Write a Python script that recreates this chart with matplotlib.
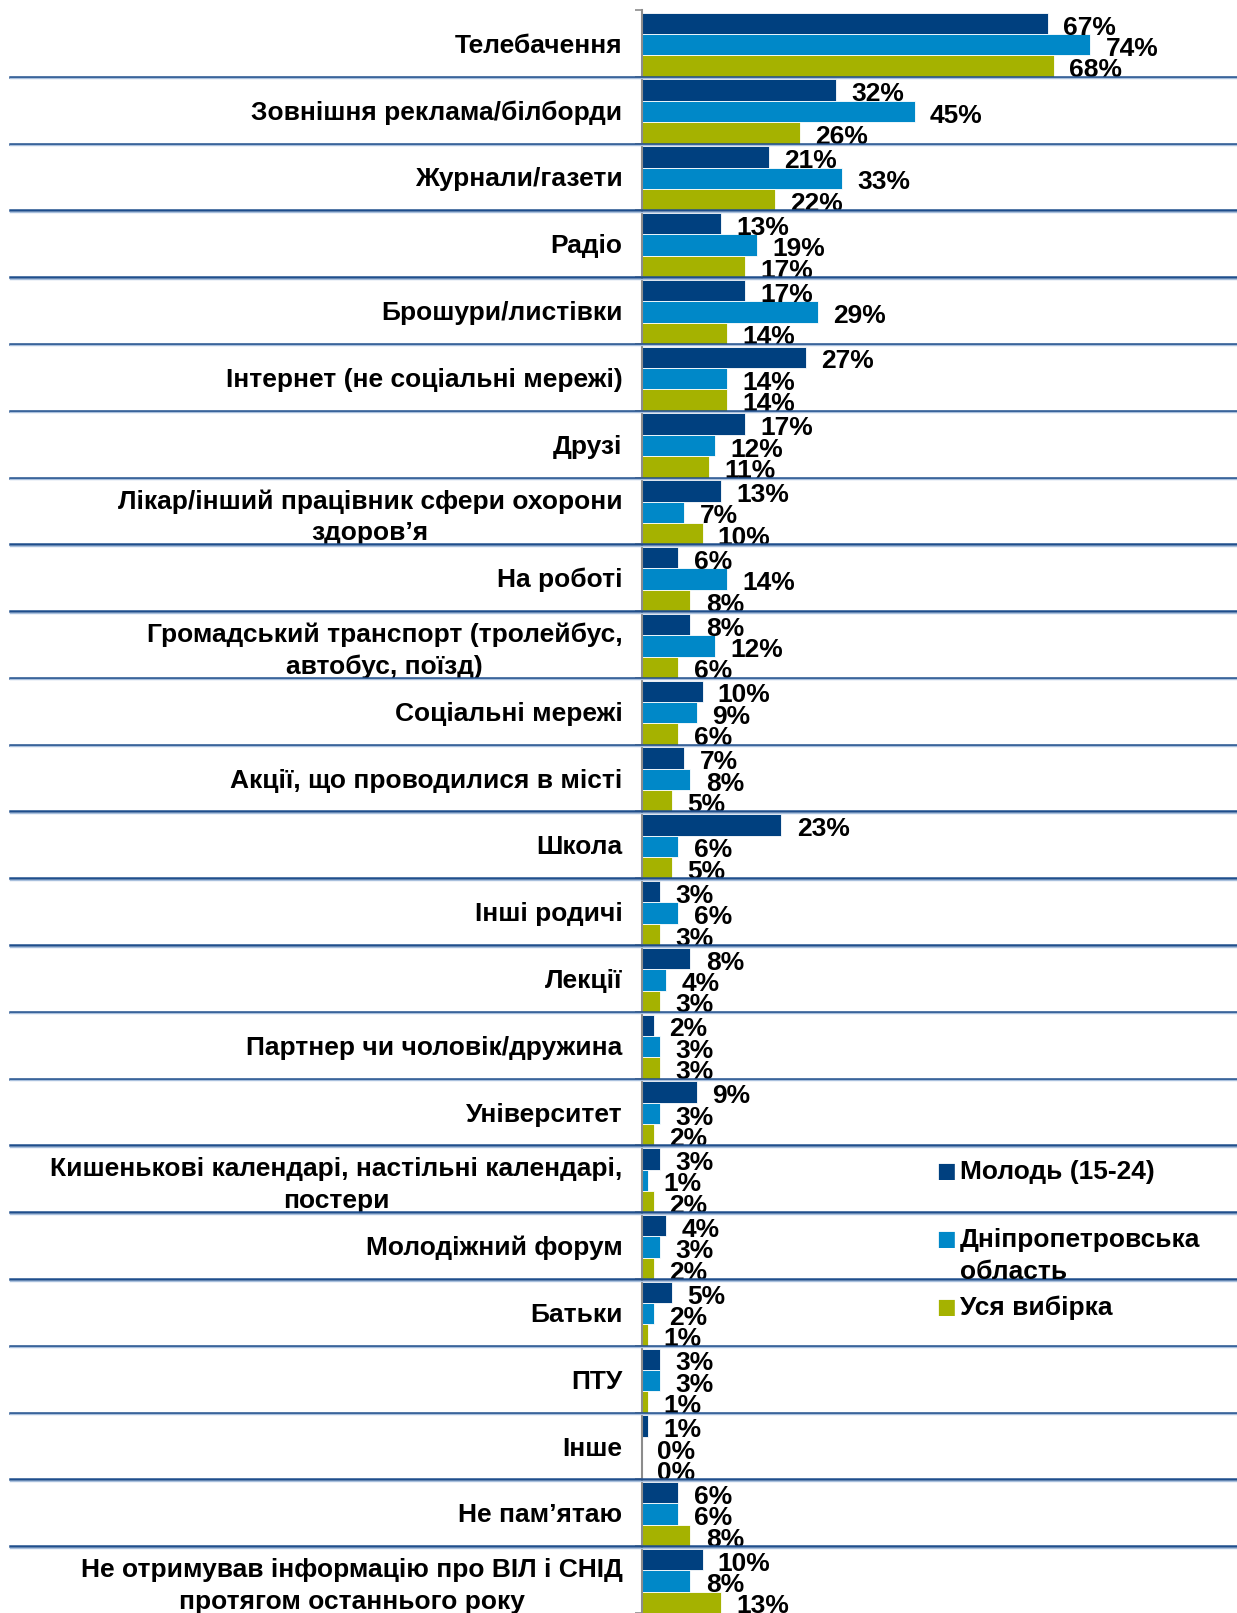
import numpy as np
import matplotlib.pyplot as plt

plt.rcParams['font.family'] = ['Liberation Sans', 'DejaVu Sans']
plt.rcParams['font.weight'] = 'bold'

# categories (top to bottom)
categories = [
    "Телебачення",
    "Зовнішня реклама/білборди",
    "Журнали/газети",
    "Радіо",
    "Брошури/листівки",
    "Інтернет (не соціальні мережі)",
    "Друзі",
    "Лікар/інший працівник сфери охорони\nздоров’я",
    "На роботі",
    "Громадський транспорт (тролейбус,\nавтобус, поїзд)",
    "Соціальні мережі",
    "Акції, що проводилися в місті",
    "Школа",
    "Інші родичі",
    "Лекції",
    "Партнер чи чоловік/дружина",
    "Університет",
    "Кишенькові календарі, настільні календарі,\nпостери",
    "Молодіжний форум",
    "Батьки",
    "ПТУ",
    "Інше",
    "Не пам’ятаю",
    "Не отримував інформацію про ВІЛ і СНІД\nпротягом останнього року",
]

youth = [67, 32, 21, 13, 17, 27, 17, 13, 6, 8, 10, 7, 23, 3, 8, 2, 9, 3, 4, 5, 3, 1, 6, 10]
region = [74, 45, 33, 19, 29, 14, 12, 7, 14, 12, 9, 8, 6, 6, 4, 3, 3, 1, 3, 2, 3, 0, 6, 8]
total = [68, 26, 22, 17, 14, 14, 11, 10, 8, 6, 6, 5, 5, 3, 3, 3, 2, 2, 2, 1, 1, 0, 8, 13]

series_names = ["Молодь (15-24)", "Дніпропетровська\nобласть", "Уся вибірка"]
colors = ["#00407F", "#0088C8", "#A5B200"]

FS = 19

fig = plt.figure(figsize=(12.37, 16.13), dpi=100)
ax = fig.add_axes([642 / 1237, 0.0, 1 - 642 / 1237, 1 - 10 / 1613])

n = len(categories)
rows = np.arange(n)
bh = 0.32
series = [youth, region, total]
for k, (vals, col) in enumerate(zip(series, colors)):
    ys = rows + 0.52 + (k - 1) * bh
    ax.barh(ys, vals, height=bh, color=col, edgecolor='white', linewidth=0.6)
    for y, v in zip(ys, vals):
        ax.annotate(f"{v}%", xy=(v, y), xytext=(11, -3), textcoords='offset points',
                    ha='left', va='center', fontsize=FS, fontweight='bold', color='black')

ax.set_xlim(0, 98.2)
ax.set_ylim(n, 0)

# row separators (double line)
for b in range(1, n):
    ax.axhline(b, xmin=(10 - 642) / 595, xmax=1, color='#1F4E8C', lw=1.8, clip_on=False, zorder=3)
    ax.axhline(b + 0.022, xmin=(10 - 642) / 595, xmax=1, color='#A9C0DD', lw=1.0, clip_on=False, zorder=3)

# axis
for s in ['top', 'right', 'bottom']:
    ax.spines[s].set_visible(False)
ax.spines['left'].set_color('#8C8C8C')
ax.spines['left'].set_linewidth(1.5)
ax.set_xticks([])
ax.set_yticks(rows + 0.5)
ax.set_yticklabels(categories, fontsize=FS, fontweight='bold')
for lab in ax.get_yticklabels():
    lab.set_multialignment('center')
    lab.set_linespacing(1.4)
ax.tick_params(axis='y', which='major', length=0, pad=14)
ax.set_yticks(np.arange(0, n + 1), minor=True)
ax.tick_params(axis='y', which='minor', length=5, width=1.2, color='#8C8C8C')

# legend
leg_y = [1171, 1239, 1307]
for name, col, yp in zip(series_names, colors, leg_y):
    yy = 1 - yp / 1613
    fig.text(946 / 1237, yy, "\u25A0", color=col, fontsize=15, ha='center', va='center',
             family='DejaVu Sans')
    fig.text(960 / 1237, yy + 11 / 1613, name, fontsize=FS, fontweight='bold', ha='left', va='top',
             linespacing=1.4)

fig.savefig("out.png", dpi=100)
